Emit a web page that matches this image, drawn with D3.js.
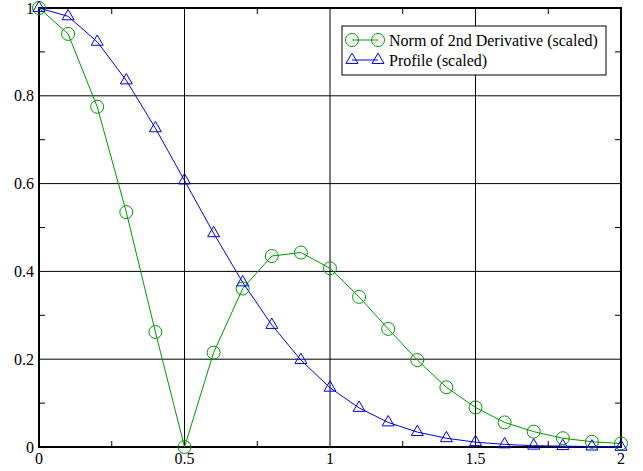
<!DOCTYPE html>
<html>
<head>
<meta charset="utf-8">
<script src="https://cdn.jsdelivr.net/npm/d3@7"></script>
<style>
  body { margin: 0; background: #fff; }
  svg { display: block; }
</style>
</head>
<body>
<svg></svg>
<script>
// sample positions
const xs = [0, 0.1, 0.2, 0.3, 0.4, 0.5, 0.6, 0.7, 0.8, 0.9, 1.0,
            1.1, 1.2, 1.3, 1.4, 1.5, 1.6, 1.7, 1.8, 1.9, 2.0];

// Norm of 2nd derivative (scaled)
const normVals = [1.0, 0.941, 0.775, 0.535, 0.262, 0.0, 0.215, 0.361, 0.435, 0.443, 0.407,
                  0.342, 0.269, 0.198, 0.136, 0.090, 0.056, 0.035, 0.020, 0.012, 0.008];

// Profile (scaled)
const profileVals = [1.0, 0.981, 0.923, 0.835, 0.726, 0.607, 0.487, 0.375, 0.278, 0.198, 0.135,
                     0.089, 0.056, 0.034, 0.020, 0.011, 0.006, 0.003, 0.002, 0.001, 0.0003];

const xTicks = [0, 0.5, 1, 1.5, 2];
const yTicks = [0, 0.2, 0.4, 0.6, 0.8, 1];
const xMinor = [0.25, 0.75, 1.25, 1.75];
const yMinor = [0.1, 0.3, 0.5, 0.7, 0.9];

const seriesNames = ["Norm of 2nd Derivative (scaled)", "Profile (scaled)"];

const W = 643, H = 471;
const margin = {top: 8, right: 22, bottom: 24, left: 39};
const width = W - margin.left - margin.right,
      height = H - margin.top - margin.bottom;

const green = "#009a00", blue = "#0000ff";
const serif = "Liberation Serif";

const svg = d3.select("svg").attr("width", W).attr("height", H);
const g = svg.append("g").attr("transform", `translate(${margin.left},${margin.top})`);

const x = d3.scaleLinear().domain([0, 2]).range([0, width]);
const y = d3.scaleLinear().domain([0, 1]).range([height, 0]);

// grid lines
g.append("g").selectAll("line")
  .data(xTicks.slice(1, -1))
  .join("line")
  .attr("x1", d => x(d)).attr("x2", d => x(d))
  .attr("y1", 0).attr("y2", height)
  .attr("stroke", "#000").attr("stroke-width", 1);
g.append("g").selectAll("line")
  .data(yTicks.slice(1, -1))
  .join("line")
  .attr("y1", d => y(d)).attr("y2", d => y(d))
  .attr("x1", 0).attr("x2", width)
  .attr("stroke", "#000").attr("stroke-width", 1);

// inward minor ticks on all four sides
const tk = 6;
const ticks = g.append("g").attr("stroke", "#000").attr("stroke-width", 1);
xMinor.forEach(d => {
  ticks.append("line").attr("x1", x(d)).attr("x2", x(d)).attr("y1", height).attr("y2", height - tk);
  ticks.append("line").attr("x1", x(d)).attr("x2", x(d)).attr("y1", 0).attr("y2", tk);
});
yMinor.forEach(d => {
  ticks.append("line").attr("y1", y(d)).attr("y2", y(d)).attr("x1", 0).attr("x2", tk);
  ticks.append("line").attr("y1", y(d)).attr("y2", y(d)).attr("x1", width).attr("x2", width - tk);
});

// axes frame
g.append("rect")
  .attr("width", width).attr("height", height)
  .attr("fill", "none").attr("stroke", "#000").attr("stroke-width", 2);

// tick labels
const fmt = d => d3.format("")(d);
g.append("g").selectAll("text")
  .data(xTicks)
  .join("text")
  .attr("x", d => x(d))
  .attr("y", height + 17)
  .attr("text-anchor", "middle")
  .style("font-family", serif)
  .attr("font-size", 16)
  .text(fmt);
g.append("g").selectAll("text")
  .data(yTicks)
  .join("text")
  .attr("x", -5)
  .attr("y", d => y(d) + 5.5)
  .attr("text-anchor", "end")
  .style("font-family", serif)
  .attr("font-size", 16)
  .text(fmt);

// series
const normData = xs.map((v, i) => ({x: v, y: normVals[i]}));
const profData = xs.map((v, i) => ({x: v, y: profileVals[i]}));
const line = d3.line().x(d => x(d.x)).y(d => y(d.y));

const tri = d3.symbol().type(d3.symbolTriangle).size(62);

g.append("path").datum(profData)
  .attr("d", line).attr("fill", "none").attr("stroke", blue).attr("stroke-width", 1);
g.append("path").datum(normData)
  .attr("d", line).attr("fill", "none").attr("stroke", green).attr("stroke-width", 1);

g.append("g").selectAll("circle")
  .data(normData)
  .join("circle")
  .attr("cx", d => x(d.x)).attr("cy", d => y(d.y))
  .attr("r", 6.5)
  .attr("fill", "none").attr("stroke", green).attr("stroke-width", 1);

g.append("g").selectAll("path")
  .data(profData)
  .join("path")
  .attr("d", tri)
  .attr("transform", d => `translate(${x(d.x)},${y(d.y)})`)
  .attr("fill", "none").attr("stroke", blue).attr("stroke-width", 1);

// legend
const lg = svg.append("g").attr("transform", "translate(342,26)");
lg.append("rect")
  .attr("width", 264).attr("height", 49)
  .attr("fill", "#fff").attr("stroke", "#000").attr("stroke-width", 1);
const items = [
  {name: seriesNames[0], color: green, kind: "circle"},
  {name: seriesNames[1], color: blue, kind: "tri"}
];
items.forEach((it, i) => {
  const cy = 14 + i * 20;
  const row = lg.append("g");
  row.append("line")
    .attr("x1", 10).attr("x2", 36).attr("y1", cy).attr("y2", cy)
    .attr("stroke", it.color).attr("stroke-width", 1);
  [10, 36].forEach(cx => {
    if (it.kind === "circle") {
      row.append("circle").attr("cx", cx).attr("cy", cy).attr("r", 6.5)
        .attr("fill", "none").attr("stroke", it.color);
    } else {
      row.append("path").attr("d", tri)
        .attr("transform", `translate(${cx},${cy})`)
        .attr("fill", "none").attr("stroke", it.color);
    }
  });
  row.append("text")
    .attr("x", 47).attr("y", cy + 5.5)
    .style("font-family", serif)
    .attr("font-size", 16)
    .text(it.name);
});
</script>
</body>
</html>
